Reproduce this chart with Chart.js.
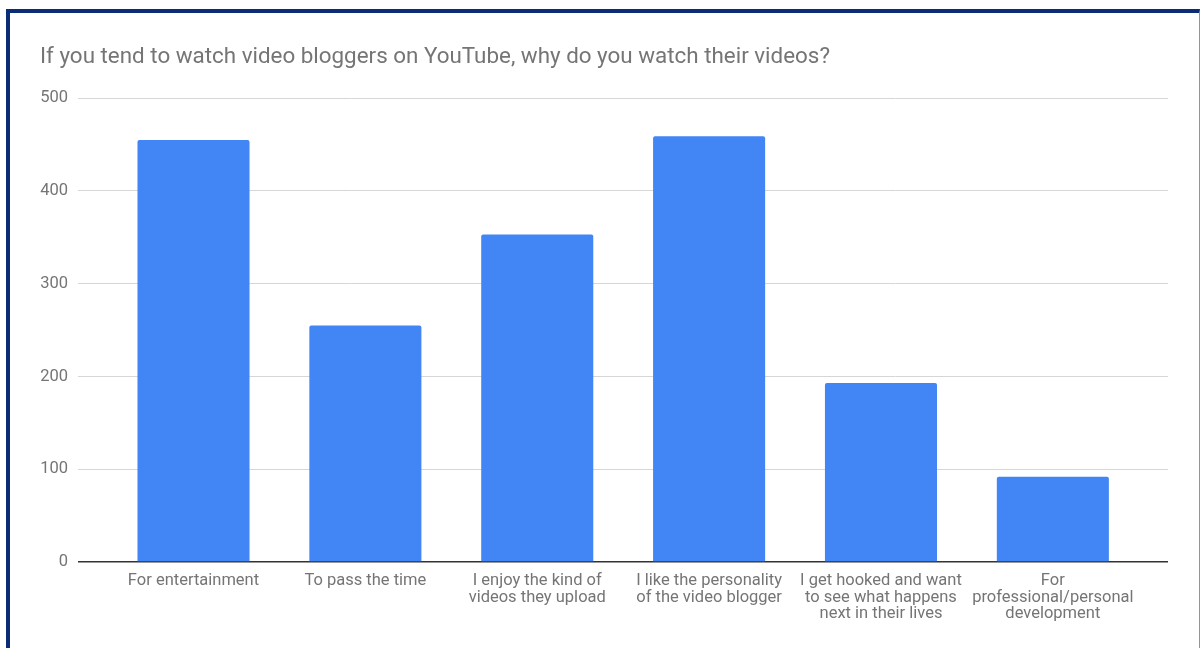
<!DOCTYPE html>
<html>
<head>
<meta charset="utf-8">
<script src="https://cdn.jsdelivr.net/npm/chart.js@4"></script>
<style>
  html, body { margin: 0; padding: 0; background: #fff; overflow: hidden; }
  #frame {
    position: absolute; left: 6px; top: 9px;
    width: 1189px; height: 640px;
    border-left: 4px solid #0b2d78;
    border-top: 4px solid #0b2d78;
    border-right: 1px solid #8b93b5;
  }
  #chart { display: block; }
</style>
</head>
<body>
<div id="frame"><canvas id="chart" width="1189" height="635"></canvas></div>
<script>
// Survey answers (x labels, multi-line as in the original)
const categories = [
    'For entertainment',
    'To pass the time',
    ['I enjoy the kind of', 'videos they upload'],
    ['I like the personality', 'of the video blogger'],
    ['I get hooked and want', 'to see what happens', 'next in their lives'],
    ['For', 'professional/personal', 'development']
];
const responses = [455, 255, 353, 459, 193, 92];
const yTicks = [0, 100, 200, 300, 400, 500];

const titleText = 'If you tend to watch video bloggers on YouTube, why do you watch their videos?';
const textGray = '#757575';

// bars sit on integer positions of a linear axis so the grid can run past them
const points = responses.map((v, i) => ({ x: i, y: v }));

new Chart(document.getElementById('chart'), {
    type: 'bar',
    data: {
        datasets: [{
            data: points,
            backgroundColor: '#4285f4',
            borderRadius: 2,
            borderSkipped: 'bottom',
            categoryPercentage: 1,
            barPercentage: 0.652
        }]
    },
    options: {
        responsive: false,
        animation: false,
        layout: { padding: { left: 30, right: 31, top: 0, bottom: 0 } },
        plugins: {
            legend: { display: false },
            tooltip: { enabled: false },
            title: {
                display: true,
                text: titleText,
                align: 'start',
                color: textGray,
                font: { family: 'Roboto', size: 22.4, weight: 'normal' },
                padding: { top: 31, bottom: 27.3 }
            }
        },
        scales: {
            x: {
                type: 'linear',
                offset: false,
                min: -0.672,
                max: 5.67,
                afterBuildTicks: s => { s.ticks = categories.map((_, i) => ({ value: i })); },
                afterFit: s => { s.height = 86; },
                grid: { display: false, drawTicks: false },
                border: { display: false },
                ticks: {
                    autoSkip: false,
                    maxRotation: 0,
                    padding: 11,
                    color: textGray,
                    font: { family: 'Roboto', size: 16.5, lineHeight: 1.0 },
                    callback: v => categories[v]
                }
            },
            y: {
                min: 0,
                max: 500,
                afterBuildTicks: s => { s.ticks = yTicks.map(v => ({ value: v })); },
                afterFit: s => { s.width = 38; },
                border: { display: false },
                grid: {
                    drawTicks: false,
                    color: c => c.tick && c.tick.value === 0 ? '#333333' : '#d6d6d6',
                    lineWidth: c => c.tick && c.tick.value === 0 ? 1.5 : 1
                },
                ticks: {
                    padding: 10,
                    color: textGray,
                    font: { family: 'Roboto', size: 16.5 }
                }
            }
        }
    }
});
</script>
</body>
</html>
